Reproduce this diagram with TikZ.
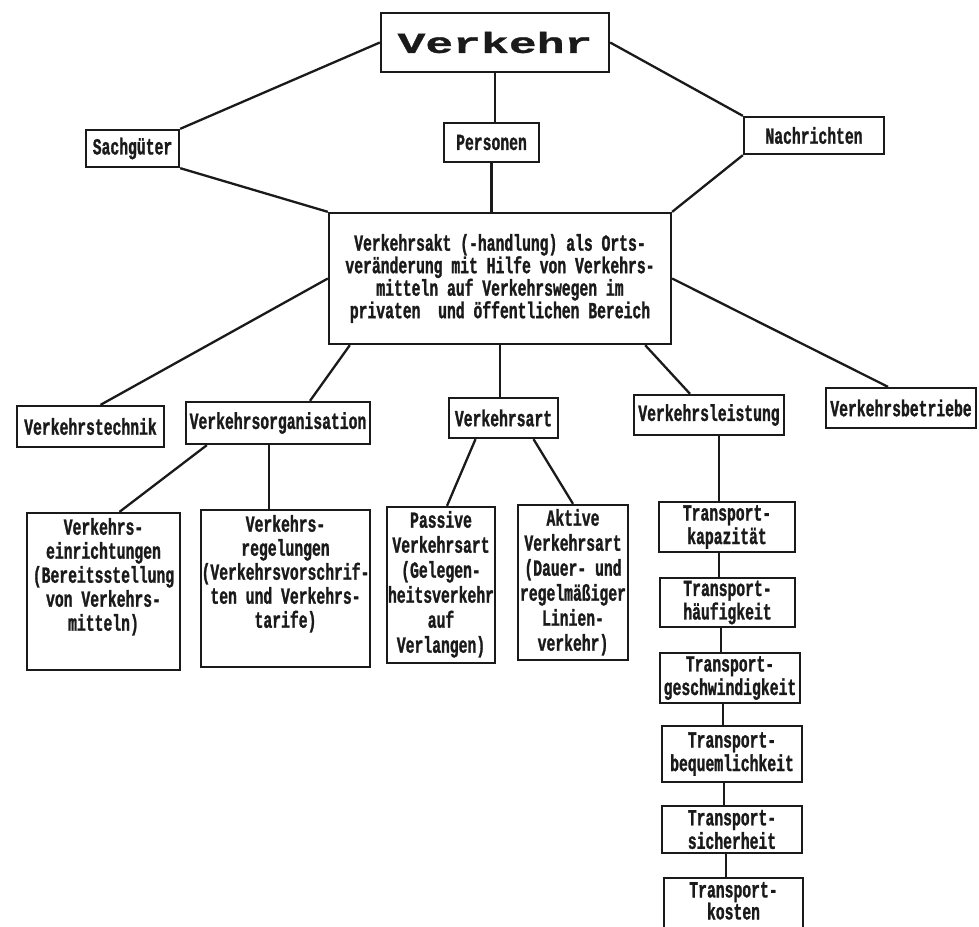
\documentclass[tikz,border=0pt]{standalone}
\usepackage{fontspec}
\newfontfamily\twfont[FakeStretch=0.64,FakeBold=1.2]{Liberation Mono}
\newfontfamily\twbigfont[FakeStretch=1.6,FakeBold=1]{Liberation Mono}
\definecolor{ink}{HTML}{1A1A1A}
\tikzset{
  box/.style={draw=ink, line width=2.3pt, inner sep=0pt, align=center, text=ink,
    font=\twfont\bfseries\fontsize{23}{23.5}\selectfont},
  txt/.style={inner sep=0pt, align=center, text=ink,
    font=\twfont\bfseries\fontsize{23}{24}\selectfont},
  conn/.style={draw=ink, line width=2.3pt}
}
\begin{document}
\begin{tikzpicture}[x=1pt,y=-1pt]
\useasboundingbox (0,0) rectangle (979,926);
\clip (0,0) rectangle (979,926);
\fill[white] (0,0) rectangle (979,926);
% top level
\node[box, minimum width=228, minimum height=59,
  font=\twbigfont\bfseries\fontsize{29}{30}\selectfont] (verkehr) at (495,42.5) {Verkehr};
\node[box, minimum width=93, minimum height=37] (sach) at (132.5,148.5) {Sachgüter};
\node[box, minimum width=95, minimum height=39] (pers) at (491.5,142.5) {Personen};
\node[box, minimum width=140, minimum height=37] (nach) at (814,135.5) {Nachrichten};
\node[box, minimum width=342, minimum height=131, font=\twfont\bfseries\fontsize{23}{22.5}\selectfont] (akt) at (500,278.5)
  {Verkehrsakt (-handlung) als Orts-\\veränderung mit Hilfe von Verkehrs-\\mitteln auf Verkehrswegen im\\privaten\ \ und öffentlichen Bereich};
% second level
\node[box, minimum width=147, minimum height=41] (tech) at (90.5,426.5) {Verkehrstechnik};
\node[box, minimum width=184, minimum height=42] (org) at (278,423) {Verkehrsorganisation};
\node[box, minimum width=109, minimum height=40] (art) at (503.5,418) {Verkehrsart};
\node[box, minimum width=150, minimum height=40] (leist) at (709,415) {Verkehrsleistung};
\node[box, minimum width=150, minimum height=40] (betr) at (901,408) {Verkehrsbetriebe};
% third level boxes
\node[box, minimum width=153, minimum height=157] (einr) at (103.5,591.5) {};
\node[box, minimum width=169, minimum height=157] (regel) at (285.5,588.5) {};
\node[box, minimum width=108, minimum height=156] (pass) at (441,585) {};
\node[box, minimum width=110, minimum height=155] (aktiv) at (573,582.5) {};
\node[txt, anchor=north] (einrt) at ([yshift=-6pt]einr.north)
  {Verkehrs-\\einrichtungen\\(Bereitsstellung\\von Verkehrs-\\mitteln)};
\node[txt, anchor=north] (regelt) at ([yshift=-6pt]regel.north)
  {Verkehrs-\\regelungen\\(Verkehrsvorschrif-\\ten und Verkehrs-\\tarife)};
\node[txt, anchor=north, font=\twfont\bfseries\fontsize{23}{25}\selectfont] (passt) at ([yshift=-5pt]pass.north)
  {Passive\\Verkehrsart\\(Gelegen-\\heitsverkehr\\auf\\Verlangen)};
\node[txt, anchor=north, font=\twfont\bfseries\fontsize{23}{25}\selectfont] (aktivt) at ([yshift=-5pt]aktiv.north)
  {Aktive\\Verkehrsart\\(Dauer- und\\regelmäßiger\\Linien-\\verkehr)};
% transport chain
\node[box, minimum width=136, minimum height=50] (kap) at (727,527) {Transport-\\kapazität};
\node[box, minimum width=135, minimum height=49] (hauf) at (727.5,602.5) {Transport-\\häufigkeit};
\node[box, minimum width=140, minimum height=50] (gesch) at (730,678) {Transport-\\geschwindigkeit};
\node[box, minimum width=140, minimum height=56] (bequ) at (732,754) {Transport-\\bequemlichkeit};
\node[box, minimum width=140, minimum height=47] (sich) at (732,829.5) {Transport-\\sicherheit};
\node[box, minimum width=139, minimum height=58] (kost) at (733.5,907) {};
\node[txt, anchor=north, font=\twfont\bfseries\fontsize{23}{22}\selectfont] (kostt) at ([yshift=-5pt]kost.north) {Transport-\\kosten};
% connectors
\draw[conn] (verkehr.west) -- (sach.north east);
\draw[conn] (sach.south east) -- (akt.north west);
\draw[conn] (verkehr.east) -- (nach.north west);
\draw[conn] (nach.south west) -- (akt.north east);
\draw[conn] (verkehr.south) -- (verkehr.south |- pers.north);
\draw[conn] (pers.south) -- (pers.south |- akt.north);
\draw[conn] (akt.west) -- ([xshift=10pt]tech.north);
\draw[conn] (akt.east) -- ([xshift=-13pt]betr.north);
\draw[conn] ([xshift=22pt]akt.south west) -- ([xshift=32pt]org.north);
\draw[conn] (akt.south) -- (akt.south |- art.north);
\draw[conn] ([xshift=-27pt]akt.south east) -- ([xshift=-19pt]leist.north);
\draw[conn] ([xshift=22pt]org.south west) -- ([xshift=16pt]einr.north);
\draw[conn] ([xshift=-9pt]org.south) -- ([xshift=-9pt]org.south |- regel.north);
\draw[conn] ([xshift=-28pt]art.south) -- ([xshift=6pt]pass.north);
\draw[conn] ([xshift=30pt]art.south) -- (aktiv.north);
\draw[conn] ([xshift=10pt]leist.south) -- ([xshift=10pt]leist.south |- kap.north);
\draw[conn] ([xshift=-8pt]kap.south) -- ([xshift=-8pt]kap.south |- hauf.north);
\draw[conn] ([xshift=-6.5pt]hauf.south) -- ([xshift=-6.5pt]hauf.south |- gesch.north);
\draw[conn] ([xshift=-7pt]gesch.south) -- ([xshift=-7pt]gesch.south |- bequ.north);
\draw[conn] ([xshift=-8pt]bequ.south) -- ([xshift=-8pt]bequ.south |- sich.north);
\draw[conn] ([xshift=-6pt]sich.south) -- ([xshift=-6pt]sich.south |- kost.north);
\end{tikzpicture}
\end{document}
